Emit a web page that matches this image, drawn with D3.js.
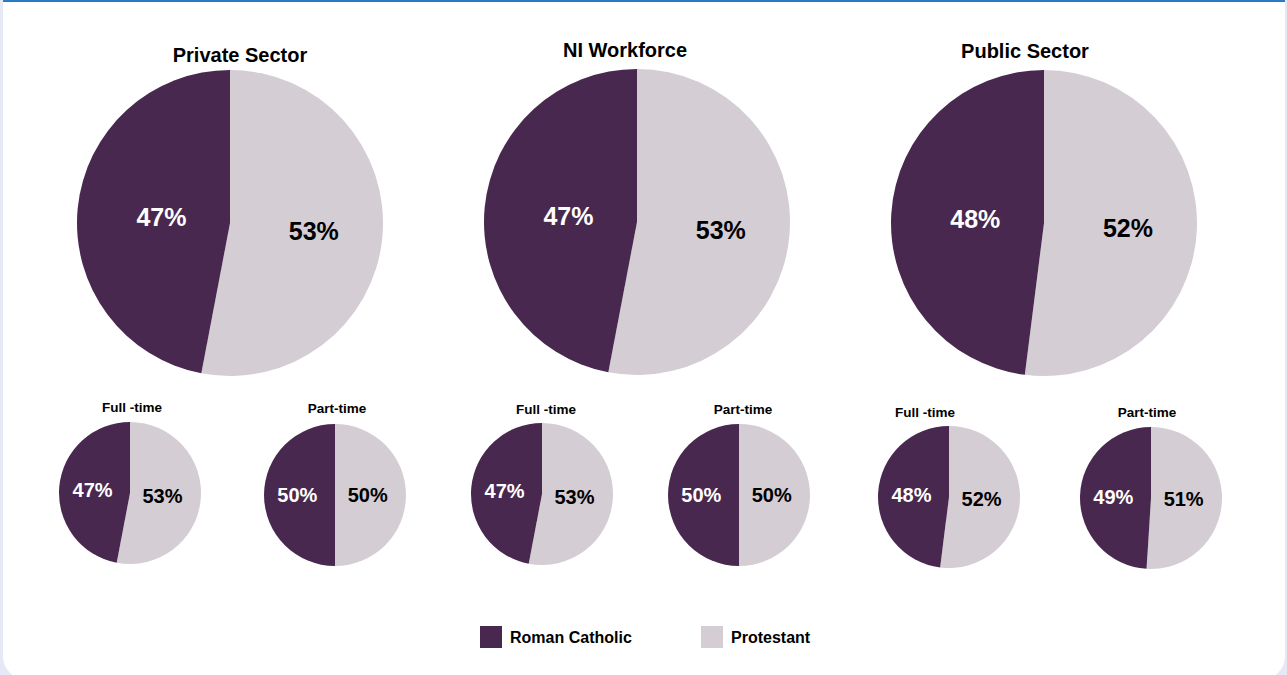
<!DOCTYPE html>
<html>
<head>
<meta charset="utf-8">
<script src="https://cdn.jsdelivr.net/npm/d3@7"></script>
<style>
  html, body { margin: 0; padding: 0; background: #e6e8f5; }
  body { width: 1287px; height: 675px; overflow: hidden; position: relative; }
  .card {
    position: absolute; left: 3px; top: 0; width: 1282px; height: 680px;
    background: #fff; border-top: 2px solid #2b7bc4; border-radius: 0 0 24px 24px;
    box-sizing: border-box;
  }
  svg { position: absolute; left: 0; top: 0; }
  text { font-family: "Liberation Sans", Arial, sans-serif; font-weight: bold; }
</style>
</head>
<body>
<div class="card"></div>
<div id="chart"></div>
<script>
// data
const religions = ['Roman Catholic', 'Protestant'];
const sectors = ['Private Sector', 'NI Workforce', 'Public Sector'];
const totalCatholic = [47, 47, 48];
const totalProtestant = [53, 53, 52];
const subLabels = ['Full -time', 'Part-time'];
const fullCatholic = [47, 47, 48];
const fullProtestant = [53, 53, 52];
const partCatholic = [50, 50, 49];
const partProtestant = [50, 50, 51];

const colors = d3.scaleOrdinal()
    .domain(religions)
    .range(['#48284f', '#d4cdd4']);

const width = 1287, height = 675;

const svg = d3.select('#chart')
    .append('svg')
    .attr('width', width)
    .attr('height', height);

// layout of each pie (centre, title position)
const bigLayout = [
    { cx: 230, cy: 223, title: [240, 62] },
    { cx: 637, cy: 222, title: [625, 57] },
    { cx: 1044, cy: 223, title: [1025, 58] }
];
const smallLayout = [
    [{ cx: 130, cy: 493, title: [132, 412] }, { cx: 335, cy: 495, title: [337, 413] }],
    [{ cx: 542, cy: 494, title: [546, 414] }, { cx: 739, cy: 495, title: [743, 414] }],
    [{ cx: 949, cy: 497, title: [925, 417] }, { cx: 1151, cy: 498, title: [1147, 417] }]
];

// Protestant first (clockwise from 12 o'clock), Catholic fills the left side
const pie = d3.pie()
    .sort(null)
    .value(d => d.value);

function drawPie(g, values, r, labelK, fontSize) {
    const data = [
        { key: religions[1], value: values[1] },
        { key: religions[0], value: values[0] }
    ];
    const arcs = pie(data);
    const arc = d3.arc().innerRadius(0).outerRadius(r);
    g.selectAll('path')
        .data(arcs)
        .enter().append('path')
        .attr('d', arc)
        .attr('fill', d => colors(d.data.key));

    g.selectAll('text.val')
        .data(arcs)
        .enter().append('text')
        .attr('class', 'val')
        .attr('transform', d => {
            const k = d.data.key === religions[0] ? labelK[0] : labelK[1];
            const la = d3.arc().innerRadius(r * k).outerRadius(r * k);
            const c = la.centroid(d);
            return `translate(${c[0]}, ${c[1]})`;
        })
        .attr('text-anchor', 'middle')
        .attr('dy', '0.36em')
        .attr('font-size', fontSize)
        .attr('fill', d => d.data.key === religions[0] ? '#fff' : '#000')
        .text(d => d.data.value + '%');
}

sectors.forEach((s, i) => {
    const L = bigLayout[i];
    svg.append('text')
        .attr('x', L.title[0])
        .attr('y', L.title[1])
        .attr('text-anchor', 'middle')
        .attr('font-size', 20)
        .text(s);
    const g = svg.append('g').attr('transform', `translate(${L.cx}, ${L.cy})`);
    drawPie(g, [totalCatholic[i], totalProtestant[i]], 153, [0.45, 0.55], 25);

    const subVals = [
        [fullCatholic[i], fullProtestant[i]],
        [partCatholic[i], partProtestant[i]]
    ];
    subLabels.forEach((lab, j) => {
        const S = smallLayout[i][j];
        svg.append('text')
            .attr('x', S.title[0])
            .attr('y', S.title[1])
            .attr('text-anchor', 'middle')
            .attr('font-size', 13.5)
            .text(lab);
        const sg = svg.append('g').attr('transform', `translate(${S.cx}, ${S.cy})`);
        drawPie(sg, subVals[j], 71, [0.53, 0.46], 20);
    });
});

// legend
const legend = svg.append('g').attr('transform', 'translate(480, 626)');
const item = legend.selectAll('g')
    .data(religions)
    .enter().append('g')
    .attr('transform', (d, i) => `translate(${i * 221}, 0)`);
item.append('rect')
    .attr('width', 22)
    .attr('height', 22)
    .attr('fill', d => colors(d));
item.append('text')
    .attr('x', 30)
    .attr('y', 11)
    .attr('dy', '0.36em')
    .attr('font-size', 16)
    .text(d => d);
</script>
</body>
</html>
